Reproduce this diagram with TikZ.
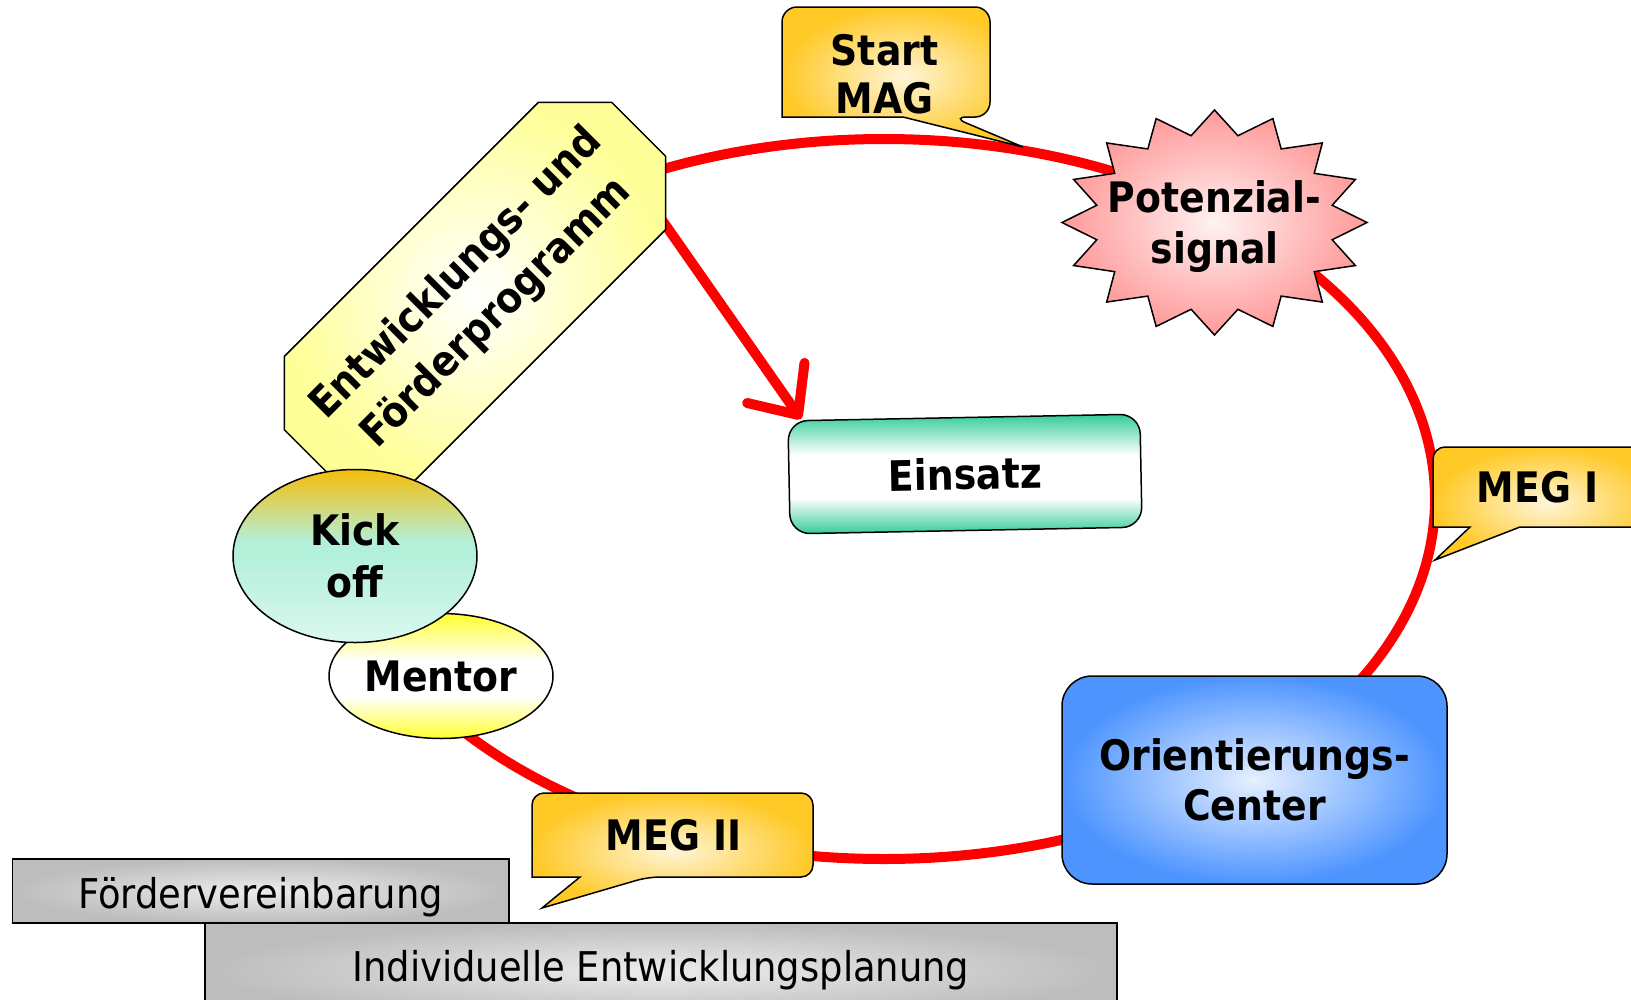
\documentclass[tikz,border=0pt]{standalone}
\usepackage{fontspec}
\setmainfont{DejaVu Sans Condensed}
\usetikzlibrary{shapes.geometric,arrows.meta}

\definecolor{calout}{HTML}{FFC926}
\definecolor{calin}{HTML}{FFF5D9}
\definecolor{entyel}{HTML}{FFFF99}
\definecolor{potpink}{HTML}{FF9999}
\definecolor{potin}{HTML}{FFF2F2}
\definecolor{oriblue}{HTML}{4D94FF}
\definecolor{oriin}{HTML}{E6F0FF}
\definecolor{grayout}{HTML}{BDBDBD}
\definecolor{grayin}{HTML}{ECECEC}
\definecolor{einsgreen}{HTML}{33CC99}
\definecolor{kicktop}{HTML}{F5BE0A}
\definecolor{kickmid}{HTML}{B3F0DA}
\definecolor{kickbot}{HTML}{DCF8EF}
\definecolor{mentyel}{HTML}{FFFF2E}

\pgfdeclareverticalshading{kickshade}{100bp}{color(0bp)=(kickbot); color(25bp)=(kickbot); color(50bp)=(kickmid); color(54bp)=(kickmid); color(75bp)=(kicktop); color(100bp)=(kicktop)}
\pgfdeclareverticalshading{mentshade}{100bp}{color(0bp)=(mentyel); color(25bp)=(mentyel); color(42bp)=(white); color(56bp)=(white); color(75bp)=(mentyel); color(100bp)=(mentyel)}
\pgfdeclareverticalshading{einsshade}{100bp}{color(0bp)=(einsgreen); color(25bp)=(einsgreen); color(40bp)=(white); color(58bp)=(white); color(75bp)=(einsgreen); color(100bp)=(einsgreen)}

\tikzset{
  redline/.style={draw=red, line width=10pt},
  bdr/.style={draw=black, line width=1.5pt},
  speech/.style={bdr, inner color=calin, outer color=calout},
  boldtxt/.style={font=\fontsize{42}{48}\selectfont\bfseries, align=center, inner sep=0pt, text=black},
  regtxt/.style={font=\fontsize{41}{48}\selectfont, inner sep=0pt, text=black},
}

\begin{document}
\begin{tikzpicture}[x=1pt,y=-1pt]
\useasboundingbox (0,0) rectangle (1631,999);

% red loop
\draw[redline] (884,499) ellipse [x radius=551, y radius=360];

% Einsatz
\node[bdr, rectangle, rounded corners=20pt, minimum width=352pt, minimum height=113pt, rotate=1.1, shade, shading=einsshade, boldtxt] (eins) at (965,474) {Einsatz};

% arrow to Einsatz
\coordinate (arrowstart) at (655,210);
\coordinate (arrowtip) at (801,419);
\draw[redline, -{Straight Barb[length=39pt,width=70pt,round]}] (arrowstart) -- (arrowtip);

% Start MAG callout
\path[speech] (990,62) [rounded corners=15pt] -- (990,117) -- (952,117) [sharp corners] -- (1023,147) -- (903,117) -- (782,117) [rounded corners=15pt] -- (782,7) -- (990,7) -- cycle;
\node[boldtxt] (startmag) at (884.5,74) {Start\\MAG};

% Potenzialsignal star
\begin{scope}[shift={(1214.5,222.5)}]
\path[bdr, inner color=potin, outer color=potpink] (0:152.5 and 112.5) \foreach \a in {0,22.5,...,337.5} { -- (\a+11.25:120 and 88.5) -- (\a+22.5:152.5 and 112.5) } -- cycle;
\end{scope}
\node[boldtxt, font=\fontsize{42}{51}\selectfont\bfseries] (pot) at (1214.5,226.8) {Potenzial-\\signal};

% MEG I callout
\path[speech] (1660,527) -- (1520,527) -- (1435,560) -- (1470,527) -- (1433,527) [rounded corners=12pt] -- (1433,447) -- (1660,447) -- cycle;
\node[boldtxt, anchor=base] (megone) at (1537.5,502) {MEG I};

% Orientierungs-Center
\node[bdr, rectangle, rounded corners=30pt, minimum width=385pt, minimum height=208pt, inner color=oriin, outer color=oriblue, boldtxt, font=\fontsize{42}{50}\selectfont\bfseries] (orient) at (1254.5,780) {Orientierungs-\\Center};

% MEG II callout
\path[speech] (813,835) [rounded corners=12pt] -- (813,877) -- (648,877) [sharp corners] -- (542,908) -- (580,877) -- (532,877) [rounded corners=12pt] -- (532,793) -- (813,793) -- cycle;
\node[boldtxt, anchor=base] (megtwo) at (673.5,850) {MEG II};

% Mentor
\node[ellipse, bdr, minimum width=224pt, minimum height=125pt, shade, shading=mentshade, boldtxt] (mentor) at (441,676) {Mentor};

% Entwicklungs- und Foerderprogramm
\begin{scope}[shift={(475,293)}, rotate=45]
\path[bdr, inner color=white, outer color=entyel] (231.5,38) -- (179.5,90) -- (-179.5,90) -- (-231.5,38) -- (-231.5,-38) -- (-179.5,-90) -- (179.5,-90) -- (231.5,-38) -- cycle;
\end{scope}
\node[boldtxt, rotate=45, font=\fontsize{42}{56}\selectfont\bfseries] (ent) at (477,294) {Entwicklungs- und\\Förderprogramm};

% Kick off
\node[ellipse, bdr, minimum width=244pt, minimum height=173pt, shade, shading=kickshade, boldtxt, font=\fontsize{42}{52}\selectfont\bfseries] (kick) at (355,556) {Kick\\off};

% bottom boxes
\node[bdr, rectangle, minimum width=496.5pt, minimum height=64pt, inner color=grayin, outer color=grayout, regtxt, text height=40pt, text depth=6pt] (foerder) at (260.75,891) {Fördervereinbarung};
\node[bdr, rectangle, minimum width=912pt, minimum height=95pt, inner color=grayin, outer color=grayout, regtxt] (iep) at (661,970.5) {Individuelle Entwicklungsplanung};

\end{tikzpicture}
\end{document}
